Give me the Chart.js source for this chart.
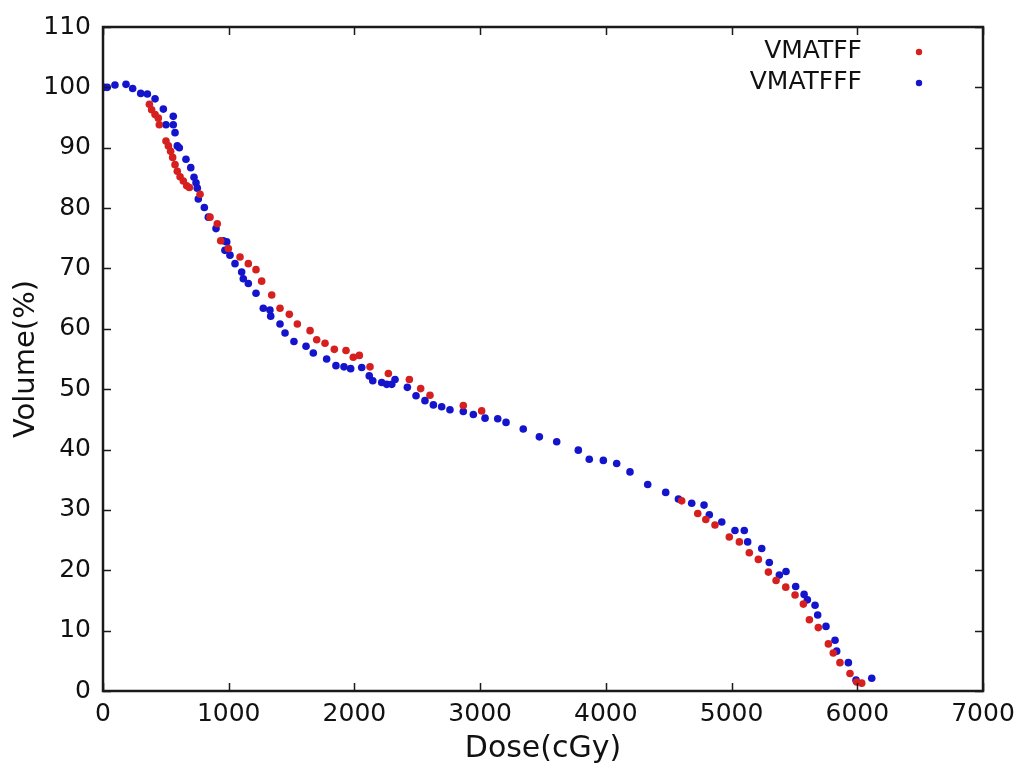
<!DOCTYPE html>
<html>
<head>
<meta charset="utf-8">
<script src="https://cdn.jsdelivr.net/npm/chart.js@4/dist/chart.umd.min.js"></script>
<style>
  html, body { margin: 0; padding: 0; background: #fff; }
  #wrap { width: 1028px; height: 769px; }
</style>
</head>
<body>
<div id="wrap"><canvas id="c" width="1028" height="769"></canvas></div>
<script>
// ---- Data ----
const seriesNames = ["VMATFF", "VMATFFF"];

const ffDose = [369, 387, 414, 440, 448, 501, 520, 538, 554, 573, 591, 613, 639, 666, 687, 772,
  851, 909, 936, 997, 1090, 1156, 1217, 1262, 1342, 1408, 1482, 1546, 1647, 1700, 1766, 1840,
  1933, 1991, 2039, 2124, 2270, 2437, 2527, 2601, 2866, 3012, 4603, 4731, 4795, 4868, 4982,
  5062, 5141, 5213, 5293, 5354, 5431, 5505, 5571, 5619, 5690, 5770, 5809, 5862, 5942, 5995, 6035];
const ffVol = [97.2, 96.3, 95.5, 94.9, 93.8, 91.1, 90.3, 89.4, 88.4, 87.2, 86.1, 85.2, 84.5, 83.7, 83.4, 82.3,
  78.5, 77.4, 74.6, 73.3, 71.9, 70.8, 69.8, 67.9, 65.6, 63.4, 62.4, 60.8, 59.7, 58.2, 57.6, 56.6,
  56.4, 55.3, 55.6, 53.7, 52.6, 51.6, 50.1, 49.0, 47.3, 46.4, 31.5, 29.4, 28.4, 27.5, 25.5,
  24.7, 22.9, 21.8, 19.7, 18.3, 17.2, 15.9, 14.4, 11.8, 10.5, 7.8, 6.3, 4.7, 2.9, 1.5, 1.3];

const fffDose = [8, 34, 95, 183, 236, 300, 353, 414, 480, 501, 559, 559, 573, 591, 607, 660, 698,
  724, 740, 750, 758, 806, 838, 899, 957, 970, 984, 1010, 1050, 1103, 1116, 1156, 1217, 1275,
  1328, 1334, 1408, 1448, 1519, 1615, 1673, 1779, 1853, 1917, 1970, 2058, 2118, 2146, 2217,
  2257, 2297, 2323, 2421, 2490, 2561, 2628, 2694, 2760, 2866, 2946, 3039, 3140, 3206, 3343,
  3471, 3609, 3781, 3868, 3980, 4086, 4192, 4333, 4476, 4577, 4683, 4781, 4823, 4922, 5027,
  5101, 5128, 5240, 5300, 5380, 5433, 5510, 5577, 5603, 5664, 5685, 5751, 5823, 5836, 5929,
  5990, 6115];
const fffVol = [100.0, 100.0, 100.4, 100.5, 99.8, 99.0, 98.9, 98.1, 96.4, 93.8, 95.2, 93.8, 92.5, 90.3, 90.0, 88.1, 86.7,
  85.1, 84.2, 83.3, 81.5, 80.1, 78.5, 76.6, 74.6, 73.0, 74.4, 72.2, 70.8, 69.4, 68.3, 67.5, 65.9, 63.4,
  63.1, 62.1, 60.8, 59.3, 57.9, 57.1, 56.0, 55.0, 53.9, 53.7, 53.4, 53.6, 52.2, 51.4, 51.1,
  50.8, 50.8, 51.6, 50.3, 48.9, 48.1, 47.4, 47.1, 46.6, 46.3, 45.8, 45.2, 45.1, 44.5, 43.4,
  42.1, 41.3, 39.9, 38.4, 38.2, 37.7, 36.3, 34.2, 32.9, 31.8, 31.1, 30.8, 29.2, 28.0, 26.6,
  26.6, 24.7, 23.6, 21.3, 19.2, 19.8, 17.3, 16.0, 15.1, 14.2, 12.6, 10.7, 8.4, 6.6, 4.7,
  1.8, 2.1];

const xTicks = [0, 1000, 2000, 3000, 4000, 5000, 6000, 7000];
const yTicks = [0, 10, 20, 30, 40, 50, 60, 70, 80, 90, 100, 110];
const xTitle = "Dose(cGy)";
const yTitle = "Volume(%)";

// ---- Styling ----
const RED = "rgb(214,32,32)";
const BLUE = "rgb(20,20,204)";
const FONT = "'DejaVu Sans', sans-serif";

const toPoints = (xs, ys) => xs.map((x, i) => ({ x: x, y: ys[i] }));

const framePlugin = {
  id: "frame",
  afterDraw(chart) {
    const ctx = chart.ctx;
    const a = chart.chartArea;
    const xs = chart.scales.x, ys = chart.scales.y;
    const L = 8;
    ctx.save();
    ctx.strokeStyle = "#1a1a1a";
    ctx.lineWidth = 1.5;
    ctx.beginPath();
    xTicks.forEach(v => {
      const p = Math.round(xs.getPixelForValue(v)) + 0.5;
      ctx.moveTo(p, a.bottom); ctx.lineTo(p, a.bottom - L);
      ctx.moveTo(p, a.top); ctx.lineTo(p, a.top + L);
    });
    yTicks.forEach(v => {
      const p = Math.round(ys.getPixelForValue(v)) + 0.5;
      ctx.moveTo(a.left, p); ctx.lineTo(a.left + L, p);
      ctx.moveTo(a.right, p); ctx.lineTo(a.right - L, p);
    });
    ctx.stroke();
    ctx.lineWidth = 2.5;
    ctx.strokeRect(a.left, a.top, a.right - a.left, a.bottom - a.top);

    // legend (top right, text right-aligned, marker to the right)
    ctx.font = "25px " + FONT;
    ctx.textAlign = "right";
    ctx.textBaseline = "middle";
    chart.data.datasets.forEach((ds, i) => {
      const y = a.top + 24 + i * 31;
      ctx.fillStyle = "#111";
      ctx.fillText(ds.label, a.right - 121, y);
      ctx.fillStyle = ds.backgroundColor;
      ctx.beginPath();
      ctx.arc(a.right - 64, y + 1, 3.2, 0, Math.PI * 2);
      ctx.fill();
    });
    ctx.restore();
  }
};

new Chart(document.getElementById("c"), {
  type: "scatter",
  data: {
    datasets: [
      { label: seriesNames[0], data: toPoints(ffDose, ffVol), backgroundColor: RED, borderWidth: 0, pointRadius: 3.8 },
      { label: seriesNames[1], data: toPoints(fffDose, fffVol), backgroundColor: BLUE, borderWidth: 0, pointRadius: 3.8 }
    ]
  },
  options: {
    responsive: false,
    animation: false,
    layout: { padding: { top: 22, right: 45, left: 0, bottom: 0 } },
    plugins: { legend: { display: false }, tooltip: { enabled: false } },
    scales: {
      x: {
        type: "linear",
        min: 0, max: 7000,
        afterBuildTicks: s => { s.ticks = xTicks.map(v => ({ value: v })); },
        afterFit: s => { s.height = 78; },
        grid: { display: true, drawOnChartArea: false, drawTicks: false },
        border: { display: false },
        ticks: { color: "#111", font: { family: FONT, size: 25 }, padding: 8, maxRotation: 0, autoSkip: false,
                 callback: v => String(v) },
        title: { display: true, text: xTitle, color: "#111", font: { family: FONT, size: 30 }, padding: { top: 0, bottom: 2 } }
      },
      y: {
        type: "linear",
        min: 0, max: 110,
        afterBuildTicks: s => { s.ticks = yTicks.map(v => ({ value: v })); },
        afterFit: s => { s.width = 103; },
        grid: { display: true, drawOnChartArea: false, drawTicks: false },
        border: { display: false },
        ticks: { color: "#111", font: { family: FONT, size: 25 }, padding: 12, autoSkip: false,
                 callback: v => String(v) },
        title: { display: true, text: yTitle, color: "#111", font: { family: FONT, size: 29 }, padding: { top: 9, bottom: 0 } }
      }
    }
  },
  plugins: [framePlugin]
});
</script>
</body>
</html>
